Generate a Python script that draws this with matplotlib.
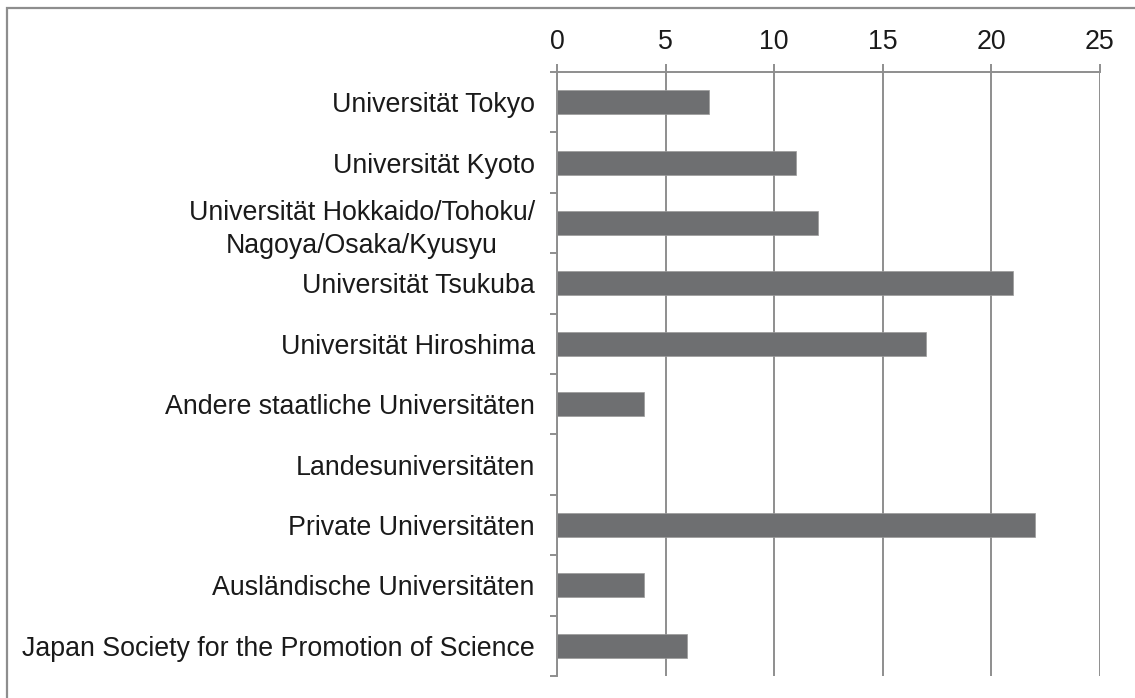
import matplotlib
matplotlib.use("Agg")
import matplotlib.pyplot as plt
from matplotlib.patches import Rectangle
import numpy as np

plt.rcParams['font.family'] = ['Liberation Sans', 'DejaVu Sans']

categories = [
    "Universität Tokyo",
    "Universität Kyoto",
    "Universität Hokkaido/Tohoku/\nNagoya/Osaka/Kyusyu",
    "Universität Tsukuba",
    "Universität Hiroshima",
    "Andere staatliche Universitäten",
    "Landesuniversitäten",
    "Private Universitäten",
    "Ausländische Universitäten",
    "Japan Society for the Promotion of Science",
]
values = [7, 11, 12, 21, 17, 4, 0, 22, 4, 6]
xticks = [0, 5, 10, 15, 20, 25]

W, H = 1135, 698
fig = plt.figure(figsize=(W / 100, H / 100), dpi=100)
ax = fig.add_axes([557 / W, 1 - 676 / H, (1100 - 557) / W, (676 - 72) / H])

gray = '#8e8e8e'
n = len(categories)
y = np.arange(n)
ax.barh(y, values, height=0.4, color='#6e6f71', edgecolor='#9a9a9a', linewidth=0.5, zorder=3)
ax.set_ylim(n - 0.5, -0.5)
ax.set_xlim(0, 25)

ax.xaxis.tick_top()
ax.set_xticks(xticks)
ax.set_xticklabels([str(t) for t in xticks])
ax.tick_params(axis='x', which='major', direction='out', length=6, width=1.4, color=gray,
               labelsize=19.3, pad=6, labelcolor='#1a1a1a')
ax.grid(axis='x', color=gray, linewidth=1.4, zorder=0)

ax.set_yticks(y)
ax.set_yticklabels(categories, multialignment='center', linespacing=1.35)
ax.set_yticks(np.arange(n + 1) - 0.5, minor=True)
ax.tick_params(axis='y', which='major', length=0, pad=16, labelsize=19.3, labelcolor='#1a1a1a')
ax.tick_params(axis='y', which='minor', length=5, width=1.4, color=gray)

for s in ['right', 'bottom']:
    ax.spines[s].set_visible(False)
for s in ['left', 'top']:
    ax.spines[s].set_color(gray)
    ax.spines[s].set_linewidth(1.4)
ax.spines['left'].set_zorder(4)

fig.add_artist(Rectangle((7 / W, -0.05), 1.1, 1 - 8 / H + 0.05, transform=fig.transFigure,
                         fill=False, edgecolor=gray, linewidth=1.6))

fig.savefig('out.png', dpi=100)
